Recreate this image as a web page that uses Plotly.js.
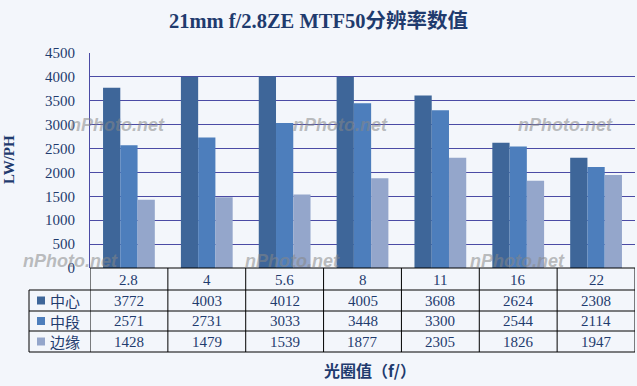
<!DOCTYPE html>
<html>
<head>
<meta charset="utf-8">
<script src="https://cdn.plot.ly/plotly-3.0.1.min.js"></script>
<style>
html,body{margin:0;padding:0;background:#F3F6FB;}
#chart{width:637px;height:386px;}
</style>
</head>
<body>
<div id="chart"></div>
<script>
const apertures = ["2.8", "4", "5.6", "8", "11", "16", "22"];
const seriesNames = ["中心", "中段", "边缘"];
const center = [3772, 4003, 4012, 4005, 3608, 2624, 2308];
const mid = [2571, 2731, 3033, 3448, 3300, 2544, 2114];
const edge = [1428, 1479, 1539, 1877, 2305, 1826, 1947];
const seriesValues = [center, mid, edge];
const seriesColors = ["#3E6699", "#4D7EBC", "#94A6CB"];

const W = 637, H = 386;
const L = 90, R = 635, T = 53, B = 268;
const px = x => (x - L) / (R - L);
const py = y => (B - y) / (B - T);

const numFont = "Liberation Serif, Noto Sans CJK SC, serif";
const cjkFont = "Noto Sans CJK SC, sans-serif";
const navy = "#1F3B6E";
const gridColor = "#4B4BA5";

const traces = seriesNames.map((n, i) => ({
  type: "bar",
  name: n,
  x: apertures,
  y: seriesValues[i],
  marker: {color: seriesColors[i], line: {width: 0}},
  hoverinfo: "x+y+name"
}));

const shapes = [];
const annotations = [];
const lineStyle = {color: "#000000", width: 1};

// table horizontal lines
const rowLines = [268, 290, 311, 331, 352];
rowLines.forEach((y, k) => {
  shapes.push({type: "line", xref: "paper", yref: "paper",
    x0: k === 0 ? px(90) : px(29), x1: 1, y0: py(y), y1: py(y), line: lineStyle});
});
// left border of legend column
shapes.push({type: "line", xref: "paper", yref: "paper",
  x0: px(29), x1: px(29), y0: py(290), y1: py(352), line: lineStyle});
// category boundaries
for (let i = 0; i <= apertures.length; i++) {
  shapes.push({type: "line", xref: "x", yref: "paper",
    x0: i - 0.5, x1: i - 0.5, y0: py(268), y1: py(352), line: lineStyle});
}
// header labels
apertures.forEach((a, i) => {
  annotations.push({xref: "x", yref: "paper", x: i, y: py(279.5), text: a,
    showarrow: false, xanchor: "center", yanchor: "middle",
    font: {family: numFont, size: 15, color: navy}});
});
// data rows
const rowCenters = [300.5, 321, 341.5];
seriesNames.forEach((n, s) => {
  const yc = rowCenters[s];
  shapes.push({type: "rect", xref: "paper", yref: "paper",
    x0: px(37), x1: px(45), y0: py(yc + 4), y1: py(yc - 4),
    fillcolor: seriesColors[s], line: {width: 0}});
  annotations.push({xref: "paper", yref: "paper", x: px(48), y: py(yc), text: n,
    showarrow: false, xanchor: "left", yanchor: "middle",
    font: {family: cjkFont, size: 15, color: navy}});
  seriesValues[s].forEach((v, i) => {
    annotations.push({xref: "x", yref: "paper", x: i, y: py(yc), text: String(v),
      showarrow: false, xanchor: "center", yanchor: "middle",
      font: {family: numFont, size: 15, color: navy}});
  });
});

// watermarks
const wm = [[117, 125], [340, 125], [565, 125], [70, 261], [292, 261], [517, 261]];
wm.forEach(([x, y]) => {
  annotations.push({xref: "paper", yref: "paper", x: px(x), y: py(y), text: "<b><i>nPhoto.net</i></b>",
    showarrow: false, xanchor: "center", yanchor: "middle",
    font: {family: "Liberation Sans, Arial, sans-serif", size: 18, color: "rgba(135,135,135,0.55)"}});
});

const layout = {
  width: W, height: H,
  paper_bgcolor: "#F3F6FB",
  plot_bgcolor: "#F3F6FB",
  margin: {l: L, r: W - R, t: T, b: H - B, pad: 0},
  showlegend: false,
  barmode: "group",
  bargap: 0.335,
  bargroupgap: 0,
  title: {text: "<b>21mm f/2.8ZE MTF50分辨率数值</b>", x: 0.5, xref: "container", xanchor: "center",
    y: 1 - 21 / H, yref: "container", yanchor: "middle",
    font: {family: numFont, size: 20.5, color: navy}},
  xaxis: {type: "category", range: [-0.5, 6.5], showticklabels: false, ticks: "",
    showgrid: false, zeroline: false, showline: false, fixedrange: true,
    title: {text: ""}},
  yaxis: {range: [0, 4500], dtick: 500, tick0: 0, showgrid: true, gridcolor: gridColor, gridwidth: 1,
    zeroline: false, showline: true, linecolor: gridColor, linewidth: 1, ticks: "",
    ticklabelstandoff: 11,
    tickfont: {family: numFont, size: 15, color: navy}, fixedrange: true,
    title: {text: ""}},
  shapes: shapes,
  annotations: annotations.concat([
    {xref: "paper", yref: "paper", x: px(9), y: py(160), text: "<b>LW/PH</b>", textangle: -90,
      showarrow: false, xanchor: "center", yanchor: "middle",
      font: {family: numFont, size: 15, color: navy}},
    {xref: "paper", yref: "paper", x: px(370), y: py(370), text: "<b>光圈值（f/）</b>",
      showarrow: false, xanchor: "center", yanchor: "middle",
      font: {family: cjkFont, size: 16, color: navy}}
  ])
};

Plotly.newPlot("chart", traces, layout, {displayModeBar: false, staticPlot: true});
</script>
</body>
</html>
